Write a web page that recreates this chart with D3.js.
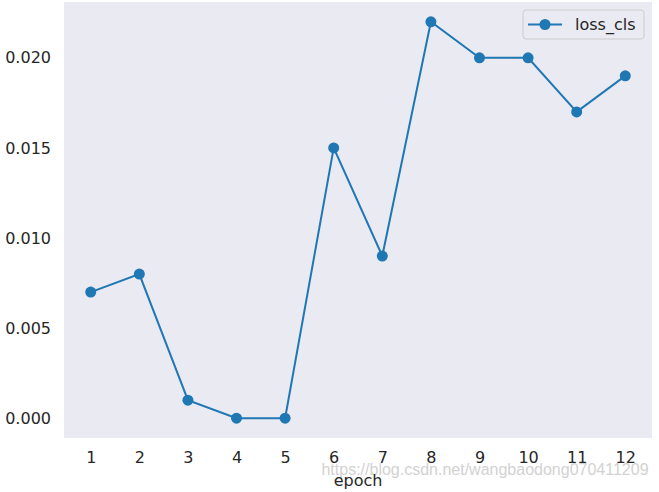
<!DOCTYPE html>
<html><head><meta charset="utf-8">
<script src="https://cdn.jsdelivr.net/npm/d3@7"></script>
<style>body{margin:0;background:#fff;}svg{display:block;font-family:"DejaVu Sans",sans-serif;}</style>
</head><body>
<svg id="c" width="659" height="492"></svg>
<script>
const epochs = [1,2,3,4,5,6,7,8,9,10,11,12];
const lossCls = [0.007,0.008,0.001,0.000,0.000,0.015,0.009,0.022,0.020,0.020,0.017,0.019];
const yTicks = [0.000,0.005,0.010,0.015,0.020];
const seriesName = "loss_cls";
const xLabel = "epoch";
const watermark = "https://blog.csdn.net/wangbaodong070411209";

const svg = d3.select("#c");
const L = 64, R = 652, T = 2, B = 438;
const x = d3.scaleLinear().domain([0.45, 12.55]).range([L, R]);
const y = d3.scaleLinear().domain([-0.0011, 0.0231]).range([B, T]);
const col = "#1f77b4";
const fs = "16px";

svg.append("rect").attr("x", L).attr("y", T).attr("width", R - L).attr("height", B - T).attr("fill", "#eaeaf2");

const xa = svg.append("g").attr("transform", `translate(0,${B})`)
  .call(d3.axisBottom(x).tickValues(epochs).tickFormat(d3.format("d")).tickSize(0).tickPadding(14));
const ya = svg.append("g").attr("transform", `translate(${L},0)`)
  .call(d3.axisLeft(y).tickValues(yTicks).tickFormat(d3.format(".3f")).tickSize(0).tickPadding(13));
[xa, ya].forEach(a => {
  a.select(".domain").remove();
  a.selectAll("text").attr("fill", "#262626").style("font-size", fs).style("font-family", "DejaVu Sans");
});

svg.append("path").datum(epochs.map((e, i) => [e, lossCls[i]]))
  .attr("fill", "none").attr("stroke", col).attr("stroke-width", 2)
  .attr("d", d3.line().x(d => x(d[0])).y(d => y(d[1])));
svg.selectAll("circle.pt").data(lossCls).join("circle").attr("class", "pt")
  .attr("cx", (d, i) => x(epochs[i])).attr("cy", d => y(d)).attr("r", 5.5).attr("fill", col);

svg.append("text").attr("x", 485).attr("y", 475).attr("text-anchor", "middle")
  .attr("fill", "#d2d2d2").style("font-size", "16px").style("font-family", "Liberation Sans, Arial").text(watermark);

svg.append("text").attr("x", (L + R) / 2).attr("y", 486).attr("text-anchor", "middle")
  .attr("fill", "#262626").style("font-size", fs).text(xLabel);

const lg = svg.append("g");
lg.append("rect").attr("x", 523).attr("y", 10).attr("width", 121).attr("height", 29).attr("rx", 3)
  .attr("fill", "#eaeaf2").attr("stroke", "#cccccc").attr("stroke-width", 1);
lg.append("line").attr("x1", 528).attr("x2", 562).attr("y1", 24.5).attr("y2", 24.5).attr("stroke", col).attr("stroke-width", 2);
lg.append("circle").attr("cx", 545).attr("cy", 24.5).attr("r", 5.5).attr("fill", col);
lg.append("text").attr("x", 575).attr("y", 29.5).attr("fill", "#262626").style("font-size", fs).text(seriesName);
</script>
</body></html>
